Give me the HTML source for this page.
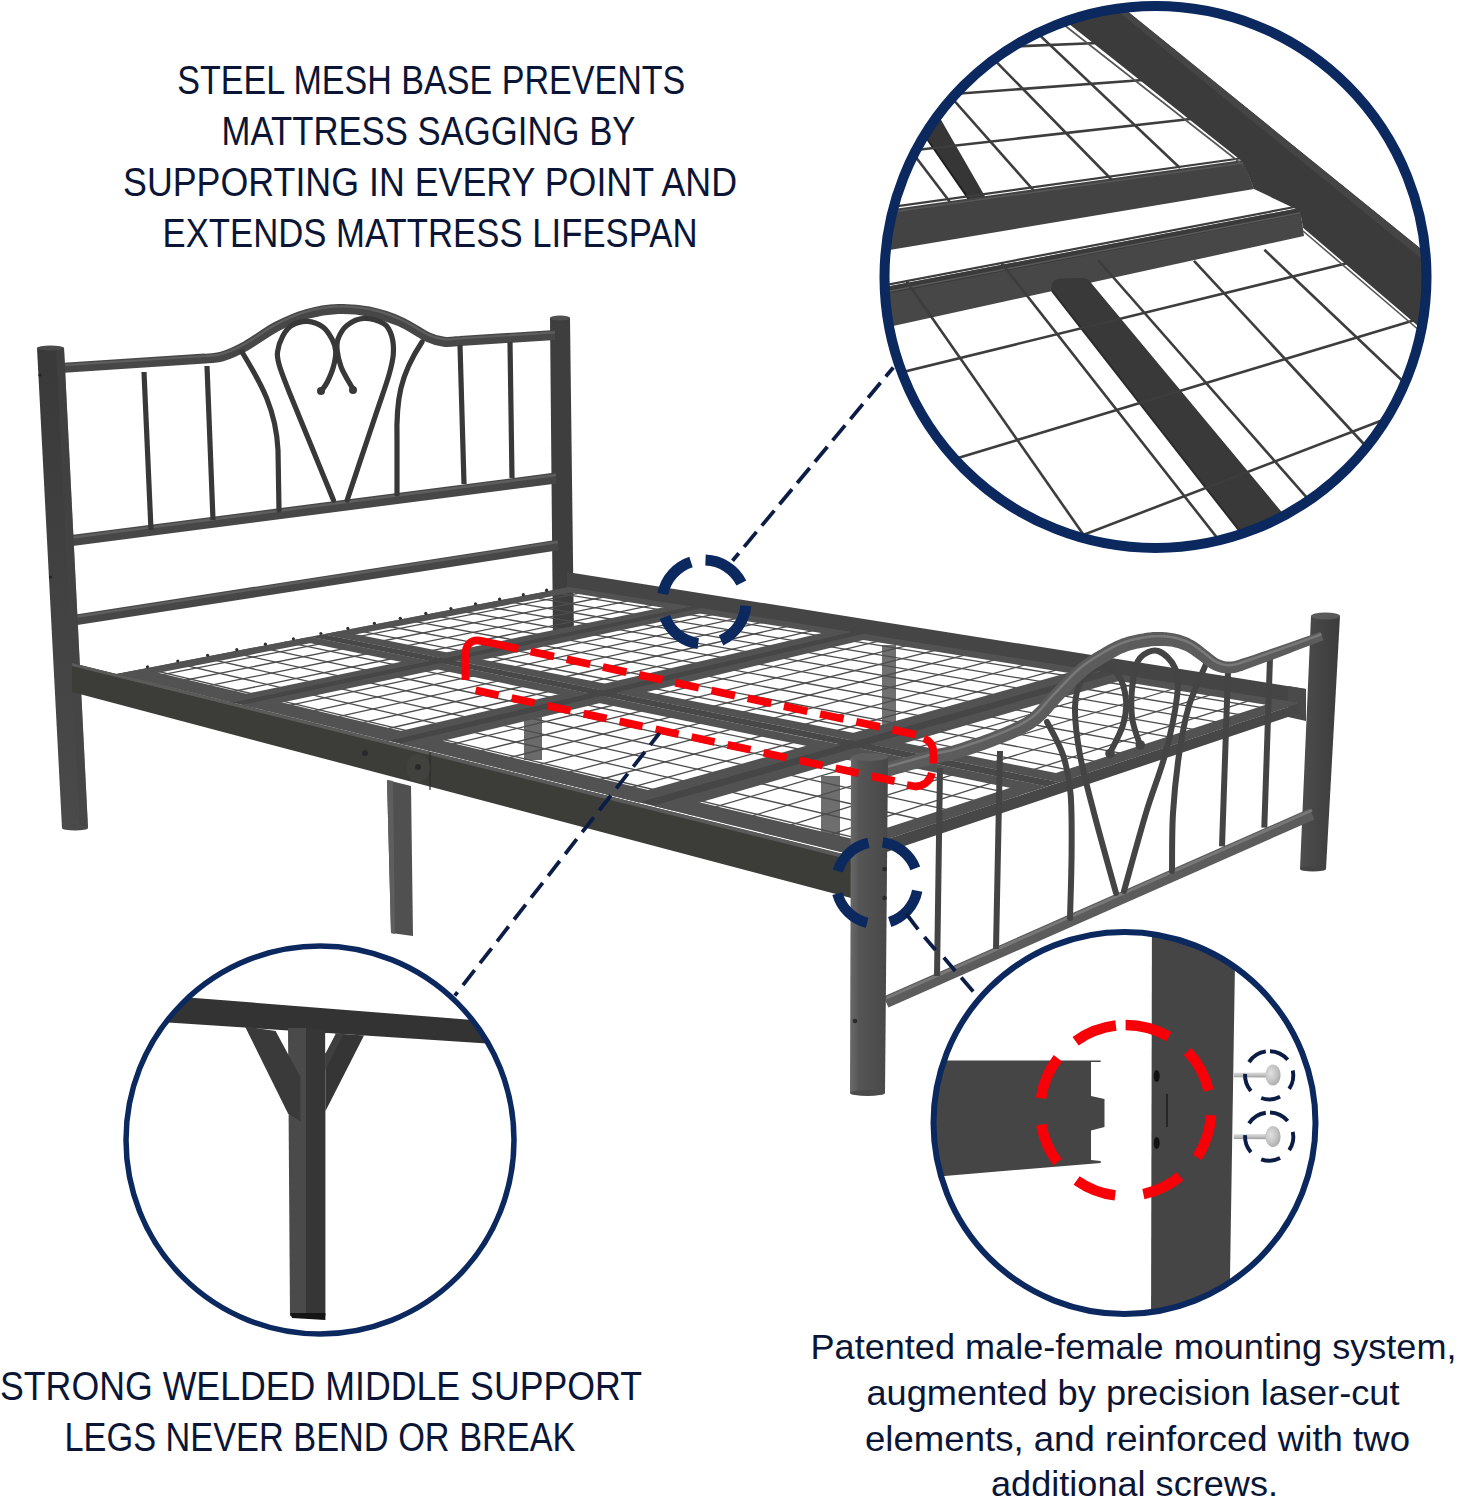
<!DOCTYPE html>
<html><head><meta charset="utf-8"><style>
html,body{margin:0;padding:0;background:#fff;}
body{width:1458px;height:1500px;overflow:hidden;}
svg{display:block;}
</style></head><body>
<svg width="1458" height="1500" viewBox="0 0 1458 1500">
<rect width="1458" height="1500" fill="#fff"/>
<defs><linearGradient id="gpost" x1="0" y1="0" x2="0" y2="1"><stop offset="0" stop-color="#393939"/><stop offset="1" stop-color="#4a4a4a"/></linearGradient><linearGradient id="gfp" x1="0" y1="0" x2="1" y2="0"><stop offset="0" stop-color="#6a6a6a"/><stop offset="0.25" stop-color="#555"/><stop offset="1" stop-color="#484848"/></linearGradient><linearGradient id="gfp2" x1="0" y1="0" x2="1" y2="0"><stop offset="0" stop-color="#4e4e4e"/><stop offset="0.5" stop-color="#444"/><stop offset="1" stop-color="#3c3c3c"/></linearGradient></defs>
<polygon points="550,318 570,318 574,640 553,640" fill="#3e3e3e" />
<ellipse cx="560" cy="318" rx="10" ry="2.5" fill="#505050"/>
<path d="M64 367.7 L 205 358.6 C207.8 358.2 215.2 358.6 222 356.5 C228.8 354.4 236.9 350.8 246 345.8 C255.1 340.8 266.5 331.8 276.7 326.5 C286.9 321.2 296.8 316.9 307 314 C317.2 311.1 327.7 309.4 338 309 C348.3 308.6 358.4 309.4 368.7 311.5 C379 313.6 390.2 317.2 400 321.5 C409.8 325.8 420.3 333.6 427.6 337 C434.9 340.4 438.6 341.1 444 341.8 C449.4 342.5 457.3 341.1 460 341 L 555 335" fill="none" stroke="#474747" stroke-width="10" stroke-linecap="butt" stroke-linejoin="round" />
<path d="M64 367.7 L 205 358.6 C207.8 358.2 215.2 358.6 222 356.5 C228.8 354.4 236.9 350.8 246 345.8 C255.1 340.8 266.5 331.8 276.7 326.5 C286.9 321.2 296.8 316.9 307 314 C317.2 311.1 327.7 309.4 338 309 C348.3 308.6 358.4 309.4 368.7 311.5 C379 313.6 390.2 317.2 400 321.5 C409.8 325.8 420.3 333.6 427.6 337 C434.9 340.4 438.6 341.1 444 341.8 C449.4 342.5 457.3 341.1 460 341 L 555 335" fill="none" stroke="#5e5e5e" stroke-width="2.2" stroke-linecap="butt" stroke-linejoin="round" transform="translate(0,-2.6)"/>
<line x1="68" y1="541" x2="556" y2="478" stroke="#474747" stroke-width="11" stroke-linecap="butt" />
<line x1="68" y1="538" x2="556" y2="475" stroke="#5e5e5e" stroke-width="2.4" stroke-linecap="butt" />
<line x1="75" y1="620" x2="558" y2="545" stroke="#474747" stroke-width="10.5" stroke-linecap="butt" />
<line x1="75" y1="617" x2="558" y2="542" stroke="#5e5e5e" stroke-width="2.4" stroke-linecap="butt" />
<line x1="144" y1="372" x2="151" y2="530" stroke="#383838" stroke-width="5.2" stroke-linecap="butt" />
<line x1="207" y1="366" x2="213" y2="520" stroke="#383838" stroke-width="5.2" stroke-linecap="butt" />
<line x1="460" y1="345" x2="464" y2="484" stroke="#383838" stroke-width="5.2" stroke-linecap="butt" />
<line x1="510" y1="342" x2="512" y2="478" stroke="#383838" stroke-width="5.2" stroke-linecap="butt" />
<path d="M242 352 C 262 385 276 410 278 450 L 279 510" fill="none" stroke="#383838" stroke-width="5.2" stroke-linecap="round" stroke-linejoin="round" />
<path d="M422 342 C 400 375 396 400 397 440 L 397 494" fill="none" stroke="#383838" stroke-width="5.2" stroke-linecap="round" stroke-linejoin="round" />
<path d="M333.4 500 C329.8 491.2 318.9 464.7 311.7 447 C304.5 429.3 295.4 407.5 290 394 C284.6 380.5 281.6 373 279.5 366 C277.4 359 276.9 357 277.5 352 C278.1 347 280.4 340.4 282.8 336 C285.2 331.6 287.9 327.7 292 325.3 C296.1 322.9 302.3 321.1 307.4 321.4 C312.5 321.6 318.6 323.9 322.7 326.8 C326.8 329.7 329.8 334.9 332 339 C334.2 343.1 335.5 346.7 335.7 351.3 C335.9 355.9 334.8 361.6 333.4 366.7 C332 371.8 329.3 377.9 327.3 382 C325.3 386.1 322.2 389.7 321.2 391.2" fill="none" stroke="#383838" stroke-width="5.2" stroke-linecap="round" stroke-linejoin="round" />
<path d="M347.2 500 C349.5 493.1 356.1 473.2 361 458.7 C365.9 444.1 371.8 426.5 376.4 412.7 C381 398.9 385.9 385.6 388.7 375.9 C391.5 366.2 392.8 361 393.3 354.4 C393.8 347.8 393.2 341.1 391.7 336 C390.1 330.9 388.6 326.6 384 323.7 C379.4 320.8 370.1 318.1 364 318.4 C357.9 318.7 351.5 321.9 347.2 325.3 C342.9 328.7 339.6 334.7 338 339 C336.4 343.3 336.8 346.7 337.3 351.3 C337.8 355.9 339.4 362.1 341 366.7 C342.6 371.3 345.1 375.2 347.2 379 C349.3 382.8 352.4 387.9 353.4 389.7" fill="none" stroke="#383838" stroke-width="5.2" stroke-linecap="round" stroke-linejoin="round" />
<circle cx="321" cy="391" r="4" fill="#383838"/>
<circle cx="353" cy="390" r="4" fill="#383838"/>
<polygon points="37,348 64,348 88,828 62,828" fill="url(#gpost)" />
<polygon points="56,348 64,348 88,828 80,828" fill="#444" opacity="0.6"/>
<ellipse cx="50.5" cy="348" rx="13.5" ry="2.5" fill="#4a4a4a"/>
<ellipse cx="75" cy="828" rx="13" ry="2.5" fill="#4a4a4a"/>
<circle cx="39.9" cy="375" r="1.6" fill="#222"/>
<circle cx="50.4" cy="577" r="1.6" fill="#222"/>
<polygon points="567,572 1306,689 1306,705 567,589" fill="#454545" />
<polygon points="1288,686 1306,689 1306,721 1288,717" fill="#4a4a4a" />
<polygon points="524,700 542,700 542,760 524,760" fill="#6a6a6a" />
<polygon points="821,776 840,776 840,842 821,842" fill="#6e6e6e" />
<polygon points="882,645 896,645 896,735 882,735" fill="#707070" />
<polygon points="310.3,636.7 1046.6,786.5 1059.7,782.2 323.3,634.2" fill="#484848" />
<polygon points="229.5,701.9 244.9,705.6 704.5,608.5 688.4,606" fill="#464646" />
<polygon points="385.1,740.1 403.1,744.5 867,634.3 848.7,631.4" fill="#464646" />
<polygon points="634.5,801.3 657,806.8 1119.4,674.3 1097.4,670.9" fill="#464646" />
<clipPath id="p00"><polygon points="116,674 232.4,702.6 430.4,661.1 310.3,636.7"/></clipPath>
<g clip-path="url(#p00)">
<line x1="116" y1="674" x2="310.3" y2="636.7" stroke="#4d4d4d" stroke-width="1.3" stroke-linecap="butt" />
<line x1="138.2" y1="679.4" x2="333.2" y2="641.4" stroke="#4d4d4d" stroke-width="1.3" stroke-linecap="butt" />
<line x1="160.9" y1="685" x2="356.7" y2="646.1" stroke="#4d4d4d" stroke-width="1.3" stroke-linecap="butt" />
<line x1="184.1" y1="690.7" x2="380.7" y2="651" stroke="#4d4d4d" stroke-width="1.3" stroke-linecap="butt" />
<line x1="208" y1="696.6" x2="405.2" y2="656" stroke="#4d4d4d" stroke-width="1.3" stroke-linecap="butt" />
<line x1="232.4" y1="702.6" x2="430.4" y2="661.1" stroke="#4d4d4d" stroke-width="1.3" stroke-linecap="butt" />
<line x1="116" y1="674" x2="232.4" y2="702.6" stroke="#4d4d4d" stroke-width="1.3" stroke-linecap="butt" />
<line x1="145.4" y1="668.4" x2="262.5" y2="696.3" stroke="#4d4d4d" stroke-width="1.3" stroke-linecap="butt" />
<line x1="174.2" y1="662.8" x2="291.9" y2="690.1" stroke="#4d4d4d" stroke-width="1.3" stroke-linecap="butt" />
<line x1="202.4" y1="657.4" x2="320.7" y2="684.1" stroke="#4d4d4d" stroke-width="1.3" stroke-linecap="butt" />
<line x1="230.1" y1="652.1" x2="348.9" y2="678.2" stroke="#4d4d4d" stroke-width="1.3" stroke-linecap="butt" />
<line x1="257.4" y1="646.9" x2="376.6" y2="672.4" stroke="#4d4d4d" stroke-width="1.3" stroke-linecap="butt" />
<line x1="284.1" y1="641.7" x2="403.8" y2="666.7" stroke="#4d4d4d" stroke-width="1.3" stroke-linecap="butt" />
<line x1="310.3" y1="636.7" x2="430.4" y2="661.1" stroke="#4d4d4d" stroke-width="1.3" stroke-linecap="butt" />
<polygon points="116,674 131.8,677.9 326.6,640 310.3,636.7" fill="#525252" />
<polygon points="219.5,699.4 232.4,702.6 430.4,661.1 417.1,658.4" fill="#525252" />
<polygon points="116,674 232.4,702.6 259.4,696.9 142.4,668.9" fill="#525252" />
<polygon points="293.9,639.8 413.7,664.6 430.4,661.1 310.3,636.7" fill="#525252" />
</g>
<clipPath id="p041"><polygon points="323.3,634.2 443.6,658.4 691.5,606.4 569,587"/></clipPath>
<g clip-path="url(#p041)">
<line x1="323.3" y1="634.2" x2="569" y2="587" stroke="#4d4d4d" stroke-width="1.3" stroke-linecap="butt" />
<line x1="346.3" y1="638.8" x2="592.5" y2="590.7" stroke="#4d4d4d" stroke-width="1.3" stroke-linecap="butt" />
<line x1="369.8" y1="643.5" x2="616.5" y2="594.5" stroke="#4d4d4d" stroke-width="1.3" stroke-linecap="butt" />
<line x1="393.8" y1="648.4" x2="641" y2="598.4" stroke="#4d4d4d" stroke-width="1.3" stroke-linecap="butt" />
<line x1="418.4" y1="653.3" x2="666" y2="602.4" stroke="#4d4d4d" stroke-width="1.3" stroke-linecap="butt" />
<line x1="443.6" y1="658.4" x2="691.5" y2="606.4" stroke="#4d4d4d" stroke-width="1.3" stroke-linecap="butt" />
<line x1="323.3" y1="634.2" x2="443.6" y2="658.4" stroke="#4d4d4d" stroke-width="1.3" stroke-linecap="butt" />
<line x1="349.9" y1="629.1" x2="470.6" y2="652.7" stroke="#4d4d4d" stroke-width="1.3" stroke-linecap="butt" />
<line x1="376.1" y1="624" x2="497.1" y2="647.2" stroke="#4d4d4d" stroke-width="1.3" stroke-linecap="butt" />
<line x1="401.8" y1="619.1" x2="523" y2="641.7" stroke="#4d4d4d" stroke-width="1.3" stroke-linecap="butt" />
<line x1="427" y1="614.3" x2="548.5" y2="636.4" stroke="#4d4d4d" stroke-width="1.3" stroke-linecap="butt" />
<line x1="451.7" y1="609.5" x2="573.5" y2="631.2" stroke="#4d4d4d" stroke-width="1.3" stroke-linecap="butt" />
<line x1="476" y1="604.9" x2="598" y2="626" stroke="#4d4d4d" stroke-width="1.3" stroke-linecap="butt" />
<line x1="499.9" y1="600.3" x2="622" y2="621" stroke="#4d4d4d" stroke-width="1.3" stroke-linecap="butt" />
<line x1="523.3" y1="595.8" x2="645.6" y2="616.1" stroke="#4d4d4d" stroke-width="1.3" stroke-linecap="butt" />
<line x1="546.4" y1="591.3" x2="668.8" y2="611.2" stroke="#4d4d4d" stroke-width="1.3" stroke-linecap="butt" />
<line x1="569" y1="587" x2="691.5" y2="606.4" stroke="#4d4d4d" stroke-width="1.3" stroke-linecap="butt" />
<polygon points="323.3,634.2 339.6,637.5 585.7,589.7 569,587" fill="#525252" />
<polygon points="430.3,655.7 443.6,658.4 691.5,606.4 678.1,604.3" fill="#525252" />
<polygon points="323.3,634.2 443.6,658.4 459.9,655 339.4,631.1" fill="#525252" />
<polygon points="553.5,590 675.9,609.7 691.5,606.4 569,587" fill="#525252" />
</g>
<clipPath id="p220"><polygon points="241.9,704.9 388.5,740.9 589.9,693.6 440.1,663.1"/></clipPath>
<g clip-path="url(#p220)">
<line x1="241.9" y1="704.9" x2="440.1" y2="663.1" stroke="#4d4d4d" stroke-width="1.3" stroke-linecap="butt" />
<line x1="264.9" y1="710.6" x2="463.7" y2="667.9" stroke="#4d4d4d" stroke-width="1.3" stroke-linecap="butt" />
<line x1="288.5" y1="716.3" x2="487.8" y2="672.8" stroke="#4d4d4d" stroke-width="1.3" stroke-linecap="butt" />
<line x1="312.6" y1="722.3" x2="512.5" y2="677.8" stroke="#4d4d4d" stroke-width="1.3" stroke-linecap="butt" />
<line x1="337.3" y1="728.3" x2="537.7" y2="683" stroke="#4d4d4d" stroke-width="1.3" stroke-linecap="butt" />
<line x1="362.6" y1="734.5" x2="563.5" y2="688.2" stroke="#4d4d4d" stroke-width="1.3" stroke-linecap="butt" />
<line x1="388.5" y1="740.9" x2="589.9" y2="693.6" stroke="#4d4d4d" stroke-width="1.3" stroke-linecap="butt" />
<line x1="241.9" y1="704.9" x2="388.5" y2="740.9" stroke="#4d4d4d" stroke-width="1.3" stroke-linecap="butt" />
<line x1="272" y1="698.6" x2="419.2" y2="733.7" stroke="#4d4d4d" stroke-width="1.3" stroke-linecap="butt" />
<line x1="301.4" y1="692.4" x2="449.2" y2="726.7" stroke="#4d4d4d" stroke-width="1.3" stroke-linecap="butt" />
<line x1="330.3" y1="686.3" x2="478.5" y2="719.8" stroke="#4d4d4d" stroke-width="1.3" stroke-linecap="butt" />
<line x1="358.6" y1="680.3" x2="507.3" y2="713" stroke="#4d4d4d" stroke-width="1.3" stroke-linecap="butt" />
<line x1="386.3" y1="674.5" x2="535.4" y2="706.4" stroke="#4d4d4d" stroke-width="1.3" stroke-linecap="butt" />
<line x1="413.5" y1="668.7" x2="562.9" y2="699.9" stroke="#4d4d4d" stroke-width="1.3" stroke-linecap="butt" />
<line x1="440.1" y1="663.1" x2="589.9" y2="693.6" stroke="#4d4d4d" stroke-width="1.3" stroke-linecap="butt" />
<polygon points="241.9,704.9 255.1,708.2 453.7,665.9 440.1,663.1" fill="#525252" />
<polygon points="373.5,737.2 388.5,740.9 589.9,693.6 574.6,690.5" fill="#525252" />
<polygon points="241.9,704.9 388.5,740.9 416.1,734.4 268.9,699.2" fill="#525252" />
<polygon points="423.4,666.6 573,697.6 589.9,693.6 440.1,663.1" fill="#525252" />
</g>
<clipPath id="p2241"><polygon points="453.3,660.3 603.2,690.5 852.2,631.9 701.4,608"/></clipPath>
<g clip-path="url(#p2241)">
<line x1="453.3" y1="660.3" x2="701.4" y2="608" stroke="#4d4d4d" stroke-width="1.3" stroke-linecap="butt" />
<line x1="476.9" y1="665.1" x2="725.3" y2="611.8" stroke="#4d4d4d" stroke-width="1.3" stroke-linecap="butt" />
<line x1="501.1" y1="669.9" x2="749.6" y2="615.7" stroke="#4d4d4d" stroke-width="1.3" stroke-linecap="butt" />
<line x1="525.8" y1="674.9" x2="774.5" y2="619.6" stroke="#4d4d4d" stroke-width="1.3" stroke-linecap="butt" />
<line x1="551" y1="680" x2="799.9" y2="623.6" stroke="#4d4d4d" stroke-width="1.3" stroke-linecap="butt" />
<line x1="576.8" y1="685.1" x2="825.7" y2="627.7" stroke="#4d4d4d" stroke-width="1.3" stroke-linecap="butt" />
<line x1="603.2" y1="690.5" x2="852.2" y2="631.9" stroke="#4d4d4d" stroke-width="1.3" stroke-linecap="butt" />
<line x1="453.3" y1="660.3" x2="603.2" y2="690.5" stroke="#4d4d4d" stroke-width="1.3" stroke-linecap="butt" />
<line x1="480.4" y1="654.6" x2="630.5" y2="684" stroke="#4d4d4d" stroke-width="1.3" stroke-linecap="butt" />
<line x1="506.9" y1="649" x2="657.2" y2="677.8" stroke="#4d4d4d" stroke-width="1.3" stroke-linecap="butt" />
<line x1="532.8" y1="643.6" x2="683.4" y2="671.6" stroke="#4d4d4d" stroke-width="1.3" stroke-linecap="butt" />
<line x1="558.3" y1="638.2" x2="709" y2="665.6" stroke="#4d4d4d" stroke-width="1.3" stroke-linecap="butt" />
<line x1="583.3" y1="632.9" x2="734.1" y2="659.7" stroke="#4d4d4d" stroke-width="1.3" stroke-linecap="butt" />
<line x1="607.8" y1="627.7" x2="758.6" y2="653.9" stroke="#4d4d4d" stroke-width="1.3" stroke-linecap="butt" />
<line x1="631.9" y1="622.7" x2="782.7" y2="648.3" stroke="#4d4d4d" stroke-width="1.3" stroke-linecap="butt" />
<line x1="655.5" y1="617.7" x2="806.3" y2="642.7" stroke="#4d4d4d" stroke-width="1.3" stroke-linecap="butt" />
<line x1="678.6" y1="612.8" x2="829.5" y2="637.3" stroke="#4d4d4d" stroke-width="1.3" stroke-linecap="butt" />
<line x1="701.4" y1="608" x2="852.2" y2="631.9" stroke="#4d4d4d" stroke-width="1.3" stroke-linecap="butt" />
<polygon points="453.3,660.3 466.9,663.1 715.1,610.2 701.4,608" fill="#525252" />
<polygon points="587.9,687.4 603.2,690.5 852.2,631.9 836.9,629.5" fill="#525252" />
<polygon points="453.3,660.3 603.2,690.5 619.7,686.6 469.6,656.9" fill="#525252" />
<polygon points="685.8,611.3 836.6,635.6 852.2,631.9 701.4,608" fill="#525252" />
</g>
<clipPath id="p470"><polygon points="399.6,743.6 638.8,802.4 842,744.9 601.1,695.9"/></clipPath>
<g clip-path="url(#p470)">
<line x1="399.6" y1="743.6" x2="601.1" y2="695.9" stroke="#4d4d4d" stroke-width="1.3" stroke-linecap="butt" />
<line x1="426.8" y1="750.3" x2="628.7" y2="701.5" stroke="#4d4d4d" stroke-width="1.3" stroke-linecap="butt" />
<line x1="454.7" y1="757.2" x2="657" y2="707.2" stroke="#4d4d4d" stroke-width="1.3" stroke-linecap="butt" />
<line x1="483.4" y1="764.2" x2="685.9" y2="713.1" stroke="#4d4d4d" stroke-width="1.3" stroke-linecap="butt" />
<line x1="512.8" y1="771.4" x2="715.6" y2="719.2" stroke="#4d4d4d" stroke-width="1.3" stroke-linecap="butt" />
<line x1="543" y1="778.8" x2="746" y2="725.4" stroke="#4d4d4d" stroke-width="1.3" stroke-linecap="butt" />
<line x1="574" y1="786.5" x2="777.2" y2="731.7" stroke="#4d4d4d" stroke-width="1.3" stroke-linecap="butt" />
<line x1="606" y1="794.3" x2="809.2" y2="738.2" stroke="#4d4d4d" stroke-width="1.3" stroke-linecap="butt" />
<line x1="638.8" y1="802.4" x2="842" y2="744.9" stroke="#4d4d4d" stroke-width="1.3" stroke-linecap="butt" />
<line x1="399.6" y1="743.6" x2="638.8" y2="802.4" stroke="#4d4d4d" stroke-width="1.3" stroke-linecap="butt" />
<line x1="430.3" y1="736.4" x2="670" y2="793.5" stroke="#4d4d4d" stroke-width="1.3" stroke-linecap="butt" />
<line x1="460.3" y1="729.2" x2="700.4" y2="784.9" stroke="#4d4d4d" stroke-width="1.3" stroke-linecap="butt" />
<line x1="489.7" y1="722.3" x2="730.1" y2="776.6" stroke="#4d4d4d" stroke-width="1.3" stroke-linecap="butt" />
<line x1="518.5" y1="715.5" x2="759.1" y2="768.4" stroke="#4d4d4d" stroke-width="1.3" stroke-linecap="butt" />
<line x1="546.6" y1="708.8" x2="787.4" y2="760.4" stroke="#4d4d4d" stroke-width="1.3" stroke-linecap="butt" />
<line x1="574.1" y1="702.3" x2="815" y2="752.5" stroke="#4d4d4d" stroke-width="1.3" stroke-linecap="butt" />
<line x1="601.1" y1="695.9" x2="842" y2="744.9" stroke="#4d4d4d" stroke-width="1.3" stroke-linecap="butt" />
<polygon points="399.6,743.6 415,747.4 616.7,699.1 601.1,695.9" fill="#525252" />
<polygon points="620,797.7 638.8,802.4 842,744.9 823.2,741.1" fill="#525252" />
<polygon points="399.6,743.6 638.8,802.4 666.8,794.4 427.2,737.1" fill="#525252" />
<polygon points="584.2,699.9 825.1,749.7 842,744.9 601.1,695.9" fill="#525252" />
</g>
<clipPath id="p4741"><polygon points="614.5,692.7 855.4,741.1 1101.6,671.5 863.4,633.7"/></clipPath>
<g clip-path="url(#p4741)">
<line x1="614.5" y1="692.7" x2="863.4" y2="633.7" stroke="#4d4d4d" stroke-width="1.3" stroke-linecap="butt" />
<line x1="642.1" y1="698.3" x2="891" y2="638.1" stroke="#4d4d4d" stroke-width="1.3" stroke-linecap="butt" />
<line x1="670.3" y1="703.9" x2="919.1" y2="642.6" stroke="#4d4d4d" stroke-width="1.3" stroke-linecap="butt" />
<line x1="699.3" y1="709.8" x2="947.9" y2="647.1" stroke="#4d4d4d" stroke-width="1.3" stroke-linecap="butt" />
<line x1="729" y1="715.7" x2="977.3" y2="651.8" stroke="#4d4d4d" stroke-width="1.3" stroke-linecap="butt" />
<line x1="759.4" y1="721.8" x2="1007.3" y2="656.6" stroke="#4d4d4d" stroke-width="1.3" stroke-linecap="butt" />
<line x1="790.6" y1="728.1" x2="1038.1" y2="661.4" stroke="#4d4d4d" stroke-width="1.3" stroke-linecap="butt" />
<line x1="822.6" y1="734.5" x2="1069.5" y2="666.4" stroke="#4d4d4d" stroke-width="1.3" stroke-linecap="butt" />
<line x1="855.4" y1="741.1" x2="1101.6" y2="671.5" stroke="#4d4d4d" stroke-width="1.3" stroke-linecap="butt" />
<line x1="614.5" y1="692.7" x2="855.4" y2="741.1" stroke="#4d4d4d" stroke-width="1.3" stroke-linecap="butt" />
<line x1="641.7" y1="686.2" x2="882.6" y2="733.4" stroke="#4d4d4d" stroke-width="1.3" stroke-linecap="butt" />
<line x1="668.5" y1="679.9" x2="909.2" y2="725.9" stroke="#4d4d4d" stroke-width="1.3" stroke-linecap="butt" />
<line x1="694.6" y1="673.7" x2="935.2" y2="718.6" stroke="#4d4d4d" stroke-width="1.3" stroke-linecap="butt" />
<line x1="720.2" y1="667.6" x2="960.6" y2="711.4" stroke="#4d4d4d" stroke-width="1.3" stroke-linecap="butt" />
<line x1="745.3" y1="661.7" x2="985.5" y2="704.4" stroke="#4d4d4d" stroke-width="1.3" stroke-linecap="butt" />
<line x1="769.9" y1="655.9" x2="1009.7" y2="697.5" stroke="#4d4d4d" stroke-width="1.3" stroke-linecap="butt" />
<line x1="794" y1="650.2" x2="1033.5" y2="690.8" stroke="#4d4d4d" stroke-width="1.3" stroke-linecap="butt" />
<line x1="817.6" y1="644.6" x2="1056.7" y2="684.2" stroke="#4d4d4d" stroke-width="1.3" stroke-linecap="butt" />
<line x1="840.7" y1="639.1" x2="1079.4" y2="677.8" stroke="#4d4d4d" stroke-width="1.3" stroke-linecap="butt" />
<line x1="863.4" y1="633.7" x2="1101.6" y2="671.5" stroke="#4d4d4d" stroke-width="1.3" stroke-linecap="butt" />
<polygon points="614.5,692.7 630.1,695.9 879,636.2 863.4,633.7" fill="#525252" />
<polygon points="836.6,737.4 855.4,741.1 1101.6,671.5 1083.2,668.6" fill="#525252" />
<polygon points="614.5,692.7 855.4,741.1 871.8,736.5 630.9,688.8" fill="#525252" />
<polygon points="847.9,637.4 1086.4,675.8 1101.6,671.5 863.4,633.7" fill="#525252" />
</g>
<clipPath id="p790"><polygon points="652.7,805.8 845,853 1046.6,786.5 855.9,747.7"/></clipPath>
<g clip-path="url(#p790)">
<line x1="652.7" y1="805.8" x2="855.9" y2="747.7" stroke="#4d4d4d" stroke-width="1.3" stroke-linecap="butt" />
<line x1="688.8" y1="814.6" x2="891.9" y2="755.1" stroke="#4d4d4d" stroke-width="1.3" stroke-linecap="butt" />
<line x1="726" y1="823.8" x2="928.9" y2="762.6" stroke="#4d4d4d" stroke-width="1.3" stroke-linecap="butt" />
<line x1="764.4" y1="833.2" x2="967" y2="770.3" stroke="#4d4d4d" stroke-width="1.3" stroke-linecap="butt" />
<line x1="804.1" y1="842.9" x2="1006.2" y2="778.3" stroke="#4d4d4d" stroke-width="1.3" stroke-linecap="butt" />
<line x1="845" y1="853" x2="1046.6" y2="786.5" stroke="#4d4d4d" stroke-width="1.3" stroke-linecap="butt" />
<line x1="652.7" y1="805.8" x2="845" y2="853" stroke="#4d4d4d" stroke-width="1.3" stroke-linecap="butt" />
<line x1="683.9" y1="796.9" x2="876.1" y2="842.7" stroke="#4d4d4d" stroke-width="1.3" stroke-linecap="butt" />
<line x1="714.3" y1="788.2" x2="906.4" y2="832.8" stroke="#4d4d4d" stroke-width="1.3" stroke-linecap="butt" />
<line x1="744" y1="779.7" x2="935.9" y2="823" stroke="#4d4d4d" stroke-width="1.3" stroke-linecap="butt" />
<line x1="773" y1="771.4" x2="964.7" y2="813.6" stroke="#4d4d4d" stroke-width="1.3" stroke-linecap="butt" />
<line x1="801.3" y1="763.3" x2="992.7" y2="804.3" stroke="#4d4d4d" stroke-width="1.3" stroke-linecap="butt" />
<line x1="828.9" y1="755.4" x2="1020" y2="795.3" stroke="#4d4d4d" stroke-width="1.3" stroke-linecap="butt" />
<line x1="855.9" y1="747.7" x2="1046.6" y2="786.5" stroke="#4d4d4d" stroke-width="1.3" stroke-linecap="butt" />
<polygon points="652.7,805.8 672,810.5 875.2,751.7 855.9,747.7" fill="#525252" />
<polygon points="824.8,848 845,853 1046.6,786.5 1026.6,782.5" fill="#525252" />
<polygon points="652.7,805.8 845,853 873,843.8 680.7,797.8" fill="#525252" />
<polygon points="839,752.6 1029.9,792 1046.6,786.5 855.9,747.7" fill="#525252" />
</g>
<clipPath id="p7941"><polygon points="869.2,743.9 1059.7,782.2 1300,703 1115.2,673.7"/></clipPath>
<g clip-path="url(#p7941)">
<line x1="869.2" y1="743.9" x2="1115.2" y2="673.7" stroke="#4d4d4d" stroke-width="1.3" stroke-linecap="butt" />
<line x1="905.2" y1="751.2" x2="1150.3" y2="679.2" stroke="#4d4d4d" stroke-width="1.3" stroke-linecap="butt" />
<line x1="942.2" y1="758.6" x2="1186.3" y2="685" stroke="#4d4d4d" stroke-width="1.3" stroke-linecap="butt" />
<line x1="980.2" y1="766.2" x2="1223.3" y2="690.8" stroke="#4d4d4d" stroke-width="1.3" stroke-linecap="butt" />
<line x1="1019.4" y1="774.1" x2="1261.1" y2="696.8" stroke="#4d4d4d" stroke-width="1.3" stroke-linecap="butt" />
<line x1="1059.7" y1="782.2" x2="1300" y2="703" stroke="#4d4d4d" stroke-width="1.3" stroke-linecap="butt" />
<line x1="869.2" y1="743.9" x2="1059.7" y2="782.2" stroke="#4d4d4d" stroke-width="1.3" stroke-linecap="butt" />
<line x1="896.4" y1="736.1" x2="1086.5" y2="773.4" stroke="#4d4d4d" stroke-width="1.3" stroke-linecap="butt" />
<line x1="923" y1="728.6" x2="1112.6" y2="764.8" stroke="#4d4d4d" stroke-width="1.3" stroke-linecap="butt" />
<line x1="949" y1="721.1" x2="1138.1" y2="756.4" stroke="#4d4d4d" stroke-width="1.3" stroke-linecap="butt" />
<line x1="974.4" y1="713.9" x2="1162.9" y2="748.2" stroke="#4d4d4d" stroke-width="1.3" stroke-linecap="butt" />
<line x1="999.2" y1="706.8" x2="1187.1" y2="740.2" stroke="#4d4d4d" stroke-width="1.3" stroke-linecap="butt" />
<line x1="1023.4" y1="699.9" x2="1210.8" y2="732.4" stroke="#4d4d4d" stroke-width="1.3" stroke-linecap="butt" />
<line x1="1047.1" y1="693.1" x2="1233.9" y2="724.8" stroke="#4d4d4d" stroke-width="1.3" stroke-linecap="butt" />
<line x1="1070.3" y1="686.5" x2="1256.4" y2="717.4" stroke="#4d4d4d" stroke-width="1.3" stroke-linecap="butt" />
<line x1="1093" y1="680" x2="1278.5" y2="710.1" stroke="#4d4d4d" stroke-width="1.3" stroke-linecap="butt" />
<line x1="1115.2" y1="673.7" x2="1300" y2="703" stroke="#4d4d4d" stroke-width="1.3" stroke-linecap="butt" />
<polygon points="869.2,743.9 888.5,747.8 1134,676.7 1115.2,673.7" fill="#525252" />
<polygon points="1039.8,778.2 1059.7,782.2 1300,703 1280.8,700" fill="#525252" />
<polygon points="869.2,743.9 1059.7,782.2 1075.9,776.9 885.7,739.2" fill="#525252" />
<polygon points="1100,678 1285.3,707.9 1300,703 1115.2,673.7" fill="#525252" />
</g>
<circle cx="147.5" cy="666.8" r="1.6" fill="#2e2e2e"/>
<circle cx="177.8" cy="661" r="1.6" fill="#2e2e2e"/>
<circle cx="207.6" cy="655.3" r="1.6" fill="#2e2e2e"/>
<circle cx="236.8" cy="649.7" r="1.6" fill="#2e2e2e"/>
<circle cx="265.4" cy="644.2" r="1.6" fill="#2e2e2e"/>
<circle cx="293.4" cy="638.8" r="1.6" fill="#2e2e2e"/>
<circle cx="320.9" cy="633.5" r="1.6" fill="#2e2e2e"/>
<circle cx="347.9" cy="628.4" r="1.6" fill="#2e2e2e"/>
<circle cx="374.4" cy="623.3" r="1.6" fill="#2e2e2e"/>
<circle cx="400.3" cy="618.3" r="1.6" fill="#2e2e2e"/>
<circle cx="425.8" cy="613.4" r="1.6" fill="#2e2e2e"/>
<circle cx="450.9" cy="608.6" r="1.6" fill="#2e2e2e"/>
<circle cx="475.5" cy="603.9" r="1.6" fill="#2e2e2e"/>
<circle cx="499.6" cy="599.2" r="1.6" fill="#2e2e2e"/>
<circle cx="523.3" cy="594.7" r="1.6" fill="#2e2e2e"/>
<circle cx="546.6" cy="590.2" r="1.6" fill="#2e2e2e"/>
<polygon points="845,853 1300,703 1300,713 845,866" fill="#474747" />
<polygon points="72,663 851,856 851,898 72,692" fill="#3c3c39" />
<polygon points="72,663 851,856 851,860 72,666" fill="#5a5a5a" />
<line x1="430" y1="752" x2="430" y2="790" stroke="#2c2c2a" stroke-width="1.2" stroke-linecap="butt" />
<ellipse cx="418" cy="768" rx="12" ry="14" fill="#41413e"/>
<circle cx="365" cy="753" r="3" fill="#2a2a2a"/>
<circle cx="418" cy="767" r="3" fill="#2a2a2a"/>
<polygon points="387,780 411,786 413,936 391,933" fill="#505050" />
<polygon points="387,780 393,781 395,934 391,933" fill="#5e5e5e" />
<polygon points="1311,616 1340,616 1326,869 1300,869" fill="url(#gfp2)" />
<ellipse cx="1325.5" cy="616" rx="14.5" ry="3.5" fill="#5a5a5a"/>
<ellipse cx="1313" cy="869" rx="13" ry="2.5" fill="#444"/>
<line x1="886" y1="1002" x2="1312" y2="814" stroke="#5c5c5c" stroke-width="12" stroke-linecap="butt" />
<line x1="886" y1="998.2" x2="1312" y2="810.2" stroke="#787878" stroke-width="2.8" stroke-linecap="butt" />
<line x1="940" y1="768" x2="937" y2="976" stroke="#444" stroke-width="6" stroke-linecap="butt" />
<line x1="1000" y1="751" x2="996" y2="949" stroke="#444" stroke-width="6" stroke-linecap="butt" />
<line x1="1228" y1="672" x2="1222" y2="846.3" stroke="#444" stroke-width="6" stroke-linecap="butt" />
<line x1="1270" y1="658" x2="1264.3" y2="827.7" stroke="#444" stroke-width="6" stroke-linecap="butt" />
<path d="M1047 722 C1049.7 727.5 1059.1 743 1063 755 C1066.9 767 1069.2 777.8 1070.6 794 C1072 810.2 1071.7 831.3 1071.6 852 C1071.5 872.7 1070.3 907 1070 918" fill="none" stroke="#444" stroke-width="6" stroke-linecap="round" stroke-linejoin="round" />
<path d="M1206 664 C1203.1 671.2 1193.1 691.8 1188.6 707 C1184.1 722.2 1181.6 737.3 1179 755 C1176.4 772.7 1174.2 793.7 1173 813 C1171.8 832.3 1172.2 861.3 1172 871" fill="none" stroke="#444" stroke-width="6" stroke-linecap="round" stroke-linejoin="round" />
<path d="M1116 893 C1112.3 879.7 1100 836 1094 813 C1088 790 1083.2 772.7 1080 755 C1076.8 737.3 1074.7 719.5 1075 707 C1075.3 694.5 1077.7 686.7 1082 680 C1086.3 673.3 1095 667.8 1101 667 C1107 666.2 1113.8 669.5 1118 675 C1122.2 680.5 1125.2 691.7 1126 700 C1126.8 708.3 1125.7 716.2 1123 725 C1120.3 733.8 1112.2 748.3 1110 753" fill="none" stroke="#444" stroke-width="6" stroke-linecap="round" stroke-linejoin="round" />
<path d="M1124 891 C1127.7 878 1139.2 835.7 1146 813 C1152.8 790.3 1159.8 774.3 1165 755 C1170.2 735.7 1175.3 711.5 1177 697 C1178.7 682.5 1178.2 675.7 1175 668 C1171.8 660.3 1163.8 652.7 1158 651 C1152.2 649.3 1144.2 653.2 1140 658 C1135.8 662.8 1134.3 670.2 1133 680 C1131.7 689.8 1130.8 706.2 1132 717 C1133.2 727.8 1138.7 740.3 1140 745" fill="none" stroke="#444" stroke-width="6" stroke-linecap="round" stroke-linejoin="round" />
<circle cx="1110" cy="753.5" r="4.8" fill="#444"/>
<circle cx="1140.3" cy="745" r="4.8" fill="#444"/>
<polygon points="886.4,777.6 886.9,777.4 887.9,776.9 888.2,776.7 887.7,777 887.5,777.1 887.6,777 888.2,776.8 889.3,776.5 890.8,776 892.9,775.4 895.8,774.6 899.4,773.6 903.5,772.4 908,771.1 912.8,769.8 917.7,768.4 922.5,767.1 927,765.8 931.2,764.7 934.7,763.8 937.7,763.1 940.1,762.5 942.3,762.1 944.2,761.7 946.2,761.3 948.3,761 950.5,760.5 953,759.9 955.8,759.1 959,758.2 962.7,757.1 966.7,755.8 971,754.4 975.5,752.9 980.2,751.3 984.9,749.7 989.6,748 994.2,746.3 998.6,744.6 1002.6,743 1006.4,741.4 1010.1,739.9 1013.7,738.4 1017.2,736.8 1020.7,735.2 1024.1,733.6 1027.4,731.8 1030.7,729.9 1033.9,727.9 1037.2,725.6 1040.3,723.2 1043.2,720.6 1046,717.9 1048.6,715.1 1051.1,712.4 1053.5,709.6 1055.8,706.9 1058.1,704.3 1060.3,701.8 1062.6,699.4 1065.1,696.8 1067.6,694.2 1070.1,691.7 1072.5,689.1 1075,686.6 1077.4,684.1 1079.8,681.7 1082.1,679.5 1084.5,677.4 1086.8,675.4 1089.1,673.5 1091.5,671.7 1093.9,670 1096.3,668.3 1098.8,666.7 1101.2,665.2 1103.6,663.7 1106,662.3 1108.3,660.9 1110.5,659.7 1112.6,658.5 1114.5,657.4 1116.4,656.4 1118.1,655.5 1119.8,654.6 1121.5,653.8 1123.2,653.1 1124.8,652.4 1126.5,651.7 1128.3,651.1 1130.1,650.5 1131.9,650 1133.8,649.5 1135.8,649 1137.7,648.6 1139.7,648.2 1141.7,647.8 1143.6,647.5 1145.4,647.2 1147.1,646.9 1148.7,646.7 1150.1,646.5 1151.4,646.3 1152.6,646.2 1153.8,646.1 1154.9,646 1156.1,646 1157.3,646 1158.5,646 1159.9,646 1161.3,646 1162.7,646 1164.1,646.1 1165.5,646.1 1166.8,646.2 1168.2,646.3 1169.5,646.5 1170.9,646.6 1172.2,646.8 1173.5,647.1 1174.8,647.4 1176.2,647.7 1177.6,648.1 1178.9,648.5 1180.3,649 1181.7,649.5 1183,650 1184.3,650.5 1185.6,651.1 1186.9,651.7 1188.1,652.4 1189.3,653.2 1190.6,654 1191.9,654.9 1193.3,655.9 1194.7,657 1196.1,658 1197.5,659.1 1198.9,660.1 1200.3,661.1 1201.5,662 1202.6,662.8 1203.8,663.7 1204.9,664.6 1206.2,665.6 1207.5,666.6 1208.8,667.5 1210.3,668.4 1211.8,669.3 1213.4,670.1 1214.9,670.7 1216.3,671.3 1217.8,671.8 1219.4,672.3 1221,672.7 1222.8,673.1 1224.6,673.3 1226.5,673.5 1228.4,673.5 1230.3,673.4 1232,673.3 1233.4,673.1 1234.9,672.9 1236.4,672.6 1237.9,672.2 1239.7,671.6 1241.8,670.9 1244.4,670 1247.7,668.8 1251.8,667.3 1257.3,665.3 1264,662.8 1271.8,659.9 1280.3,656.7 1289,653.4 1297.6,650.1 1305.7,647 1313,644.2 1319,641.9 1323.5,640.2 1320.5,631.8 1315.9,633.3 1309.8,635.5 1302.4,638 1294.2,640.9 1285.5,643.9 1276.8,647 1268.2,649.9 1260.4,652.6 1253.6,654.9 1248.2,656.7 1244,658.1 1240.7,659.1 1238.2,660 1236.2,660.6 1234.8,661 1233.8,661.2 1233,661.3 1232.1,661.4 1231,661.5 1229.7,661.6 1228.3,661.6 1227.1,661.6 1226,661.4 1225,661.3 1224,661 1222.9,660.7 1221.9,660.3 1220.8,659.9 1219.7,659.4 1218.6,658.9 1217.6,658.4 1216.7,657.9 1215.8,657.3 1214.8,656.6 1213.8,655.8 1212.8,654.9 1211.6,653.9 1210.4,652.9 1209.1,651.9 1207.7,650.9 1206.5,650 1205.2,649 1203.9,647.9 1202.5,646.8 1201.1,645.7 1199.6,644.6 1198,643.4 1196.5,642.3 1194.8,641.2 1193.1,640.3 1191.4,639.4 1189.8,638.6 1188.1,637.8 1186.5,637.1 1184.8,636.5 1183.1,635.9 1181.5,635.3 1179.8,634.8 1178.2,634.3 1176.5,633.9 1174.8,633.5 1173.1,633.2 1171.4,632.9 1169.7,632.7 1168,632.5 1166.4,632.3 1164.8,632.2 1163.2,632.1 1161.6,632.1 1160.1,632 1158.6,632 1157.2,632 1155.7,632 1154.3,632.1 1152.8,632.1 1151.4,632.3 1149.8,632.4 1148.3,632.6 1146.6,632.8 1144.9,633.1 1143.1,633.4 1141.2,633.7 1139.2,634.1 1137,634.5 1134.9,634.9 1132.7,635.4 1130.4,635.9 1128.2,636.5 1125.9,637.2 1123.7,637.9 1121.6,638.6 1119.6,639.4 1117.7,640.2 1115.7,641.1 1113.8,642 1111.8,643 1109.8,644 1107.8,645.1 1105.7,646.3 1103.5,647.5 1101.2,648.9 1098.9,650.3 1096.4,651.7 1093.8,653.3 1091.2,654.9 1088.6,656.7 1085.9,658.5 1083.2,660.4 1080.5,662.5 1077.8,664.6 1075.2,666.9 1072.6,669.2 1070,671.7 1067.5,674.2 1064.9,676.8 1062.4,679.4 1059.9,682 1057.5,684.6 1055,687.1 1052.6,689.6 1050,692.3 1047.6,695 1045.2,697.8 1042.9,700.5 1040.6,703.1 1038.3,705.7 1036,708.1 1033.7,710.3 1031.3,712.4 1028.8,714.4 1026.2,716.2 1023.5,717.9 1020.7,719.5 1017.7,721.1 1014.6,722.6 1011.5,724.1 1008.1,725.5 1004.7,727 1001.1,728.5 997.4,730 993.5,731.6 989.3,733.2 984.8,734.8 980.3,736.5 975.7,738.1 971.1,739.6 966.6,741.1 962.4,742.5 958.5,743.7 955,744.8 952,745.7 949.6,746.3 947.4,746.8 945.5,747.2 943.7,747.6 941.7,747.9 939.6,748.3 937.2,748.8 934.4,749.4 931.3,750.2 927.6,751.2 923.3,752.3 918.8,753.6 913.9,754.9 909,756.3 904.2,757.7 899.7,759 895.5,760.1 891.9,761.2 889.1,762 886.9,762.6 885.2,763.1 884,763.5 883,763.8 882.3,764.1 881.5,764.4 880.8,764.8 880.9,764.8 881.6,764.4 881.6,764.4" fill="#5c5c5c" />
<polyline points="883,768.4 883.2,768.3 883,768.4 883,768.4 883.4,768.2 883.8,768 884.4,767.8 885.3,767.5 886.4,767.1 888.1,766.6 890.2,766 893.1,765.2 896.7,764.2 900.8,763 905.4,761.7 910.2,760.4 915.1,759 919.9,757.7 924.5,756.4 928.6,755.3 932.3,754.3 935.4,753.5 938.1,752.9 940.4,752.4 942.5,752.1 944.4,751.7 946.3,751.3 948.4,750.9 950.6,750.4 953.2,749.7 956.2,748.8 959.7,747.7 963.7,746.5 967.9,745.1 972.4,743.6 977,742 981.7,740.4 986.3,738.8 990.7,737.1 995,735.5 998.9,733.9 1002.7,732.4 1006.3,730.9 1009.8,729.4 1013.2,727.9 1016.4,726.4 1019.6,724.8 1022.7,723.2 1025.7,721.5 1028.5,719.7 1031.3,717.7 1034,715.7 1036.5,713.4 1039,711 1041.4,708.5 1043.7,705.9 1046,703.2 1048.4,700.5 1050.7,697.8 1053.1,695.1 1055.6,692.6 1058.1,690 1060.5,687.5 1063,684.9 1065.5,682.3 1067.9,679.7 1070.4,677.2 1072.9,674.7 1075.4,672.3 1078,670 1080.5,667.8 1083.1,665.8 1085.7,663.8 1088.3,662 1090.9,660.2 1093.5,658.5 1096.1,656.9 1098.6,655.3 1101,653.9 1103.3,652.5 1105.6,651.2 1107.7,649.9 1109.8,648.8 1111.8,647.7 1113.7,646.7 1115.6,645.8 1117.4,644.9 1119.3,644.1 1121.2,643.3 1123.1,642.6 1125.1,641.9 1127.2,641.2 1129.3,640.6 1131.4,640 1133.6,639.5 1135.7,639 1137.9,638.6 1139.9,638.2 1141.9,637.8 1143.8,637.5 1145.6,637.2 1147.2,637 1148.8,636.8 1150.3,636.6 1151.7,636.4 1153.1,636.3 1154.5,636.3 1155.8,636.2 1157.2,636.2 1158.6,636.2 1160,636.2 1161.5,636.2 1163,636.3 1164.6,636.4 1166.1,636.5 1167.7,636.6 1169.3,636.8 1170.8,637 1172.4,637.2 1174,637.5 1175.6,637.9 1177.2,638.3 1178.7,638.7 1180.3,639.2 1181.9,639.7 1183.5,640.2 1185,640.8 1186.6,641.5 1188.2,642.2 1189.7,642.9 1191.2,643.7 1192.8,644.6 1194.3,645.6 1195.8,646.6 1197.3,647.7 1198.7,648.8 1200.2,649.9 1201.5,651 1202.9,652 1204.2,653 1205.5,654 1206.8,654.9 1208.1,655.9 1209.3,656.9 1210.4,657.8 1211.5,658.7 1212.6,659.6 1213.7,660.4 1214.8,661.1 1215.9,661.7 1217,662.3 1218.2,662.8 1219.5,663.3 1220.7,663.8 1221.9,664.2 1223.1,664.5 1224.3,664.8 1225.6,665 1226.9,665.1 1228.3,665.2 1229.9,665.1 1231.3,665 1232.5,664.9 1233.5,664.8 1234.6,664.6 1235.7,664.3 1237.3,663.9 1239.3,663.2 1241.8,662.4 1245.1,661.3 1249.3,659.9 1254.7,658 1261.5,655.7 1269.3,652.9 1277.8,649.9 1286.6,646.8 1295.2,643.7 1303.4,640.7 1310.7,638.1 1316.9,635.9 1321.4,634.3" fill="none" stroke="#787878" stroke-width="2.6" stroke-linecap="butt" stroke-linejoin="round" />
<polygon points="851,757 888,757 885,1093 850,1093" fill="url(#gfp)" />
<ellipse cx="869.5" cy="757" rx="18.5" ry="4" fill="#5e5e5e"/>
<ellipse cx="867.5" cy="1093" rx="17.5" ry="3" fill="#4a4a4a"/>
<circle cx="884.5" cy="869" r="2.3" fill="#2a2a2a"/>
<circle cx="884.5" cy="898" r="2.3" fill="#2a2a2a"/>
<circle cx="855" cy="1021" r="2.3" fill="#2a2a2a"/>
<clipPath id="bc"><circle cx="1155.5" cy="277" r="271"/></clipPath>
<circle cx="1155.5" cy="277" r="271" fill="#fff"/>
<g clip-path="url(#bc)">
<polygon points="905,105 925,92 990,205 972,205" fill="#363636" />
<line x1="905" y1="107" x2="972" y2="204" stroke="#1e1e1e" stroke-width="2" stroke-linecap="butt" />
<line x1="1000" y1="47" x2="1110" y2="42.5" stroke="#3d3d3d" stroke-width="2.6" stroke-linecap="butt" />
<line x1="940" y1="95" x2="1150" y2="79.5" stroke="#3d3d3d" stroke-width="2.6" stroke-linecap="butt" />
<line x1="880" y1="154" x2="1195" y2="118.5" stroke="#3d3d3d" stroke-width="2.6" stroke-linecap="butt" />
<line x1="970" y1="35" x2="1112" y2="180" stroke="#3d3d3d" stroke-width="2.6" stroke-linecap="butt" />
<line x1="1010" y1="7" x2="1180" y2="168" stroke="#3d3d3d" stroke-width="2.6" stroke-linecap="butt" />
<line x1="920" y1="62" x2="1035" y2="192" stroke="#3d3d3d" stroke-width="2.6" stroke-linecap="butt" />
<line x1="880" y1="110" x2="953" y2="206" stroke="#3d3d3d" stroke-width="2.6" stroke-linecap="butt" />
<polygon points="870,290 1300,208 1304,236 870,331" fill="#474747" />
<polygon points="870,290 1300,208 1301,214 870,297" fill="#3a3a3a" />
<line x1="870" y1="295" x2="1300" y2="213" stroke="#5a5a5a" stroke-width="1.5" stroke-linecap="butt" />
<path d="M1051 290 Q1051 279 1060 278.5 L1082 278 Q1089 278 1092 284 L1330 570 L1270 570 Z" fill="#393939" stroke="#393939" stroke-width="0" stroke-linecap="round" stroke-linejoin="round" />
<line x1="1052" y1="291" x2="1270" y2="570" stroke="#2a2a2a" stroke-width="2" stroke-linecap="butt" />
<line x1="880" y1="377.6" x2="1360" y2="260" stroke="#3d3d3d" stroke-width="2.6" stroke-linecap="butt" />
<line x1="900" y1="475.4" x2="1420" y2="318.4" stroke="#3d3d3d" stroke-width="2.6" stroke-linecap="butt" />
<line x1="1040" y1="551.5" x2="1420" y2="405.8" stroke="#3d3d3d" stroke-width="2.6" stroke-linecap="butt" />
<line x1="906.7" y1="281.6" x2="1090" y2="544" stroke="#3d3d3d" stroke-width="2.6" stroke-linecap="butt" />
<line x1="1001.4" y1="263" x2="1240" y2="567" stroke="#3d3d3d" stroke-width="2.6" stroke-linecap="butt" />
<line x1="1098" y1="260" x2="1330" y2="524" stroke="#3d3d3d" stroke-width="2.6" stroke-linecap="butt" />
<line x1="1194" y1="260.8" x2="1400" y2="483" stroke="#3d3d3d" stroke-width="2.6" stroke-linecap="butt" />
<line x1="1264.4" y1="249.8" x2="1420" y2="397.5" stroke="#3d3d3d" stroke-width="2.6" stroke-linecap="butt" />
<line x1="870" y1="288" x2="1300" y2="206" stroke="#3d3d3d" stroke-width="2.2" stroke-linecap="butt" />
<polygon points="870,212.3 1243,160 1254,189 870,253.3" fill="#434343" />
<line x1="870" y1="215" x2="1243" y2="163" stroke="#575757" stroke-width="1.5" stroke-linecap="butt" />
<line x1="870" y1="210" x2="1243" y2="158" stroke="#3d3d3d" stroke-width="2.2" stroke-linecap="butt" />
<polygon points="1032.5,-5 1107.4,-5 1445,268.5 1445,350 1418.6,326.5 1303,227.7 1300,211 1254,189 1243,162 1070,24.7" fill="#3b3b3b" />
<polygon points="1107.4,-5 1445,268.5 1445,278 1098,-5" fill="#454545" />
<line x1="1045" y1="10" x2="1243" y2="165" stroke="#555" stroke-width="1.6" stroke-linecap="butt" />
<line x1="1303" y1="231" x2="1420" y2="331" stroke="#555" stroke-width="1.6" stroke-linecap="butt" />
</g>
<circle cx="1155.5" cy="277" r="271" fill="none" stroke="#0b285f" stroke-width="10"/>
<clipPath id="lc"><circle cx="320" cy="1140" r="194"/></clipPath>
<circle cx="320" cy="1140" r="194" fill="#fff"/>
<g clip-path="url(#lc)">
<polygon points="100,990.5 540,1025.3 540,1047 100,1018" fill="#333" />
<polygon points="335.6,1033.5 364,1035.5 325.4,1111.3 325.4,1053.6" fill="#353535" />
<polygon points="335.6,1033.5 343.5,1034 325.4,1070 325.4,1053.6" fill="#3e3e3e" />
<polygon points="288,1028 306,1028 306,1316 290,1316" fill="#4a4a4a" />
<polygon points="306,1028 325.4,1030 325.4,1316 306,1316" fill="#363636" />
<polygon points="290,1313 325.4,1313 325.4,1320 292,1318" fill="#151515" />
<polygon points="245,1026.4 275.6,1031 300.5,1077.3 300.5,1121.5 288,1113.5" fill="#3a3a3a" />
<polygon points="276.5,1031.4 288,1031.6 288,1052.4" fill="#fff" />
<polygon points="325.4,1033.4 335.6,1033.9 325.4,1053.6" fill="#fff" />
</g>
<circle cx="320" cy="1140" r="194" fill="none" stroke="#0b285f" stroke-width="5.5"/>
<clipPath id="jc"><circle cx="1124.5" cy="1123" r="191"/></clipPath>
<circle cx="1124.5" cy="1123" r="191" fill="#fff"/>
<g clip-path="url(#jc)">
<polygon points="1152,900 1236,900 1229,1340 1151,1340" fill="#454545" />
<polygon points="920,1060.5 1100.7,1060.5 1100.7,1062 1091,1062 1091,1096 1104.5,1099 1104.5,1127 1091,1130.6 1091,1160 1100.7,1161 1100.7,1163 920,1178" fill="#454545" />
<ellipse cx="1156.7" cy="1076" rx="3" ry="6" fill="#111"/>
<ellipse cx="1156.7" cy="1143" rx="3" ry="6" fill="#111"/>
<line x1="1167" y1="1094" x2="1167" y2="1127" stroke="#111" stroke-width="1.2" stroke-linecap="butt" />
<defs><linearGradient id="gsh" x1="0" y1="0" x2="0" y2="1"><stop offset="0" stop-color="#dcdcdc"/><stop offset="0.5" stop-color="#c4c4c4"/><stop offset="1" stop-color="#9a9a9a"/></linearGradient><radialGradient id="ghd" cx="0.35" cy="0.4" r="0.7"><stop offset="0" stop-color="#e0e0e0"/><stop offset="0.6" stop-color="#c2c2c2"/><stop offset="1" stop-color="#a8a8a8"/></radialGradient></defs>
<polygon points="1233.7,1072.7 1270,1072.4 1270,1077.6 1233.7,1077.3" fill="url(#gsh)" />
<ellipse cx="1273" cy="1075" rx="7.6" ry="10.6" fill="url(#ghd)"/>
<polygon points="1233.7,1134.3 1270,1134 1270,1139.2 1233.7,1138.9" fill="url(#gsh)" />
<ellipse cx="1273" cy="1136.6" rx="7.6" ry="10.6" fill="url(#ghd)"/>
</g>
<path d="M1125.6 1025 A85.5 85.5 0 0 1 1168.9 1036.8" fill="none" stroke="#f70008" stroke-width="10.5"/>
<path d="M1187.5 1051.5 A85.5 85.5 0 0 1 1208.7 1090.4" fill="none" stroke="#f70008" stroke-width="10.5"/>
<path d="M1211 1115.3 A85.5 85.5 0 0 1 1197.1 1157.3" fill="none" stroke="#f70008" stroke-width="10.5"/>
<path d="M1180.1 1176.4 A85.5 85.5 0 0 1 1143.4 1194.1" fill="none" stroke="#f70008" stroke-width="10.5"/>
<path d="M1115.2 1195.4 A85.5 85.5 0 0 1 1076.6 1180.5" fill="none" stroke="#f70008" stroke-width="10.5"/>
<path d="M1057.6 1162.3 A85.5 85.5 0 0 1 1041.3 1124.6" fill="none" stroke="#f70008" stroke-width="10.5"/>
<path d="M1041 1098.3 A85.5 85.5 0 0 1 1057.9 1058.3" fill="none" stroke="#f70008" stroke-width="10.5"/>
<path d="M1075.6 1041.2 A85.5 85.5 0 0 1 1115.9 1025.5" fill="none" stroke="#f70008" stroke-width="10.5"/>
<path d="M1270 1051.2 A24.1 24.1 0 0 1 1287.7 1059.8" fill="none" stroke="#0c1d45" stroke-width="3.9"/>
<path d="M1292.8 1070.5 A24.1 24.1 0 0 1 1289.2 1088.8" fill="none" stroke="#0c1d45" stroke-width="3.9"/>
<path d="M1280.1 1096.8 A24.1 24.1 0 0 1 1261.2 1098" fill="none" stroke="#0c1d45" stroke-width="3.9"/>
<path d="M1250.9 1091 A24.1 24.1 0 0 1 1245.1 1073.9" fill="none" stroke="#0c1d45" stroke-width="3.9"/>
<path d="M1249 1062.1 A24.1 24.1 0 0 1 1265.8 1051.4" fill="none" stroke="#0c1d45" stroke-width="3.9"/>
<path d="M1270 1112.5 A24.1 24.1 0 0 1 1287.7 1121.1" fill="none" stroke="#0c1d45" stroke-width="3.9"/>
<path d="M1292.8 1131.8 A24.1 24.1 0 0 1 1289.2 1150.1" fill="none" stroke="#0c1d45" stroke-width="3.9"/>
<path d="M1280.1 1158.1 A24.1 24.1 0 0 1 1261.2 1159.3" fill="none" stroke="#0c1d45" stroke-width="3.9"/>
<path d="M1250.9 1152.3 A24.1 24.1 0 0 1 1245.1 1135.2" fill="none" stroke="#0c1d45" stroke-width="3.9"/>
<path d="M1249 1123.4 A24.1 24.1 0 0 1 1265.8 1112.7" fill="none" stroke="#0c1d45" stroke-width="3.9"/>
<circle cx="1124.5" cy="1123" r="191" fill="none" stroke="#0b285f" stroke-width="6"/>
<line x1="530.5" y1="651.4" x2="554" y2="656.5" stroke="#f70008" stroke-width="7.8" stroke-linecap="butt" />
<line x1="566.7" y1="659.2" x2="590.2" y2="664.3" stroke="#f70008" stroke-width="7.8" stroke-linecap="butt" />
<line x1="602.9" y1="667" x2="626.4" y2="672.1" stroke="#f70008" stroke-width="7.8" stroke-linecap="butt" />
<line x1="639.1" y1="674.9" x2="662.6" y2="679.9" stroke="#f70008" stroke-width="7.8" stroke-linecap="butt" />
<line x1="675.3" y1="682.7" x2="698.8" y2="687.8" stroke="#f70008" stroke-width="7.8" stroke-linecap="butt" />
<line x1="711.5" y1="690.5" x2="735" y2="695.6" stroke="#f70008" stroke-width="7.8" stroke-linecap="butt" />
<line x1="747.7" y1="698.3" x2="771.2" y2="703.4" stroke="#f70008" stroke-width="7.8" stroke-linecap="butt" />
<line x1="783.9" y1="706.1" x2="807.4" y2="711.2" stroke="#f70008" stroke-width="7.8" stroke-linecap="butt" />
<line x1="820.1" y1="714" x2="843.6" y2="719" stroke="#f70008" stroke-width="7.8" stroke-linecap="butt" />
<line x1="856.3" y1="721.8" x2="879.8" y2="726.9" stroke="#f70008" stroke-width="7.8" stroke-linecap="butt" />
<line x1="892.5" y1="729.6" x2="916" y2="734.7" stroke="#f70008" stroke-width="7.8" stroke-linecap="butt" />
<line x1="475.6" y1="690.2" x2="498.6" y2="695.2" stroke="#f70008" stroke-width="7.8" stroke-linecap="butt" />
<line x1="511.6" y1="698" x2="534.6" y2="703" stroke="#f70008" stroke-width="7.8" stroke-linecap="butt" />
<line x1="547.6" y1="705.8" x2="570.6" y2="710.8" stroke="#f70008" stroke-width="7.8" stroke-linecap="butt" />
<line x1="583.6" y1="713.6" x2="606.6" y2="718.6" stroke="#f70008" stroke-width="7.8" stroke-linecap="butt" />
<line x1="619.6" y1="721.4" x2="642.6" y2="726.4" stroke="#f70008" stroke-width="7.8" stroke-linecap="butt" />
<line x1="655.6" y1="729.2" x2="678.6" y2="734.2" stroke="#f70008" stroke-width="7.8" stroke-linecap="butt" />
<line x1="691.6" y1="737" x2="714.6" y2="742" stroke="#f70008" stroke-width="7.8" stroke-linecap="butt" />
<line x1="727.6" y1="744.9" x2="750.6" y2="749.8" stroke="#f70008" stroke-width="7.8" stroke-linecap="butt" />
<line x1="763.6" y1="752.7" x2="786.6" y2="757.7" stroke="#f70008" stroke-width="7.8" stroke-linecap="butt" />
<line x1="799.6" y1="760.5" x2="822.6" y2="765.5" stroke="#f70008" stroke-width="7.8" stroke-linecap="butt" />
<line x1="835.6" y1="768.3" x2="858.6" y2="773.3" stroke="#f70008" stroke-width="7.8" stroke-linecap="butt" />
<line x1="871.6" y1="776.1" x2="894.6" y2="781.1" stroke="#f70008" stroke-width="7.8" stroke-linecap="butt" />
<path d="M 465.5 680 L 465.5 655 C 465.5 645 470.5 638.5 482 641 L 518.4 648.9" fill="none" stroke="#f70008" stroke-width="7.8" stroke-linecap="butt" stroke-linejoin="round" />
<path d="M 924 738.3 C 930 741 933.5 746 933.5 753 L 933.5 763.5" fill="none" stroke="#f70008" stroke-width="7.8" stroke-linecap="butt" stroke-linejoin="round" />
<path d="M 932 773 C 930 781 924 786 915.5 786.5 L 907 785" fill="none" stroke="#f70008" stroke-width="7.8" stroke-linecap="butt" stroke-linejoin="round" />
<path d="M705.5 560 A42 42 0 0 1 741.4 582.9" fill="none" stroke="#0b285f" stroke-width="11"/>
<path d="M745.8 605.7 A42 42 0 0 1 721.1 640.4" fill="none" stroke="#0b285f" stroke-width="11"/>
<path d="M698.2 643.6 A42 42 0 0 1 664.8 617.1" fill="none" stroke="#0b285f" stroke-width="11"/>
<path d="M662.8 594 A42 42 0 0 1 691 562.1" fill="none" stroke="#0b285f" stroke-width="11"/>
<path d="M882.7 842.4 A41 41 0 0 1 915.3 868.3" fill="none" stroke="#0b285f" stroke-width="10.5"/>
<path d="M917.2 890.8 A41 41 0 0 1 889.7 922" fill="none" stroke="#0b285f" stroke-width="10.5"/>
<path d="M867.1 922.8 A41 41 0 0 1 837.4 893.6" fill="none" stroke="#0b285f" stroke-width="10.5"/>
<path d="M837.8 871 A41 41 0 0 1 868.5 842.9" fill="none" stroke="#0b285f" stroke-width="10.5"/>
<line x1="732.5" y1="560.8" x2="738.8" y2="553.2" stroke="#0c1d45" stroke-width="3.8" stroke-linecap="butt" />
<line x1="744.1" y1="546.9" x2="756.5" y2="531.9" stroke="#0c1d45" stroke-width="3.8" stroke-linecap="butt" />
<line x1="761.8" y1="525.6" x2="774.3" y2="510.6" stroke="#0c1d45" stroke-width="3.8" stroke-linecap="butt" />
<line x1="779.5" y1="504.3" x2="792" y2="489.3" stroke="#0c1d45" stroke-width="3.8" stroke-linecap="butt" />
<line x1="797.2" y1="483" x2="809.7" y2="468" stroke="#0c1d45" stroke-width="3.8" stroke-linecap="butt" />
<line x1="814.9" y1="461.7" x2="827.4" y2="446.7" stroke="#0c1d45" stroke-width="3.8" stroke-linecap="butt" />
<line x1="832.6" y1="440.4" x2="845.1" y2="425.4" stroke="#0c1d45" stroke-width="3.8" stroke-linecap="butt" />
<line x1="850.4" y1="419.1" x2="862.8" y2="404.1" stroke="#0c1d45" stroke-width="3.8" stroke-linecap="butt" />
<line x1="868.1" y1="397.8" x2="880.5" y2="382.8" stroke="#0c1d45" stroke-width="3.8" stroke-linecap="butt" />
<line x1="885.8" y1="376.5" x2="893.3" y2="367.5" stroke="#0c1d45" stroke-width="3.8" stroke-linecap="butt" />
<line x1="659.5" y1="733" x2="650.3" y2="744.8" stroke="#0c1d45" stroke-width="3.8" stroke-linecap="butt" />
<line x1="644.9" y1="751.8" x2="633.3" y2="766.6" stroke="#0c1d45" stroke-width="3.8" stroke-linecap="butt" />
<line x1="627.8" y1="773.6" x2="616.3" y2="788.4" stroke="#0c1d45" stroke-width="3.8" stroke-linecap="butt" />
<line x1="610.8" y1="795.5" x2="599.3" y2="810.3" stroke="#0c1d45" stroke-width="3.8" stroke-linecap="butt" />
<line x1="593.8" y1="817.3" x2="582.2" y2="832.1" stroke="#0c1d45" stroke-width="3.8" stroke-linecap="butt" />
<line x1="576.7" y1="839.2" x2="565.2" y2="854" stroke="#0c1d45" stroke-width="3.8" stroke-linecap="butt" />
<line x1="559.7" y1="861" x2="548.2" y2="875.8" stroke="#0c1d45" stroke-width="3.8" stroke-linecap="butt" />
<line x1="542.7" y1="882.9" x2="531.1" y2="897.7" stroke="#0c1d45" stroke-width="3.8" stroke-linecap="butt" />
<line x1="525.7" y1="904.7" x2="514.1" y2="919.5" stroke="#0c1d45" stroke-width="3.8" stroke-linecap="butt" />
<line x1="508.6" y1="926.5" x2="497.1" y2="941.4" stroke="#0c1d45" stroke-width="3.8" stroke-linecap="butt" />
<line x1="491.6" y1="948.4" x2="480" y2="963.2" stroke="#0c1d45" stroke-width="3.8" stroke-linecap="butt" />
<line x1="474.6" y1="970.2" x2="463" y2="985.1" stroke="#0c1d45" stroke-width="3.8" stroke-linecap="butt" />
<line x1="457.5" y1="992.1" x2="454.8" y2="995.6" stroke="#0c1d45" stroke-width="3.8" stroke-linecap="butt" />
<line x1="906" y1="913.5" x2="918.1" y2="929.4" stroke="#0c1d45" stroke-width="3.8" stroke-linecap="butt" />
<line x1="924.4" y1="937" x2="935.5" y2="950" stroke="#0c1d45" stroke-width="3.8" stroke-linecap="butt" />
<line x1="943.8" y1="957.6" x2="955.2" y2="970.9" stroke="#0c1d45" stroke-width="3.8" stroke-linecap="butt" />
<line x1="961.2" y1="977.5" x2="973.2" y2="991.4" stroke="#0c1d45" stroke-width="3.8" stroke-linecap="butt" />
<g font-family="&quot;Liberation Sans&quot;, sans-serif" fill="#0b1636">
<text x="177.3" y="93.7" font-size="40.8" textLength="508" lengthAdjust="spacingAndGlyphs">STEEL MESH BASE PREVENTS</text>
<text x="221.5" y="145" font-size="40.8" textLength="414" lengthAdjust="spacingAndGlyphs">MATTRESS SAGGING BY</text>
<text x="123" y="195.5" font-size="40.8" textLength="614" lengthAdjust="spacingAndGlyphs">SUPPORTING IN EVERY POINT AND</text>
<text x="162.5" y="246.5" font-size="40.8" textLength="535" lengthAdjust="spacingAndGlyphs">EXTENDS MATTRESS LIFESPAN</text>
<text x="0" y="1400" font-size="40.8" textLength="642" lengthAdjust="spacingAndGlyphs">STRONG WELDED MIDDLE SUPPORT</text>
<text x="64.5" y="1451" font-size="40.8" textLength="511" lengthAdjust="spacingAndGlyphs">LEGS NEVER BEND OR BREAK</text>
<text x="810.5" y="1359" font-size="35" textLength="646" lengthAdjust="spacingAndGlyphs">Patented male-female mounting system,</text>
<text x="866.5" y="1405" font-size="35" textLength="533" lengthAdjust="spacingAndGlyphs">augmented by precision laser-cut</text>
<text x="865" y="1451" font-size="35" textLength="545" lengthAdjust="spacingAndGlyphs">elements, and reinforced with two</text>
<text x="991" y="1496" font-size="35" textLength="287" lengthAdjust="spacingAndGlyphs">additional screws.</text>
</g>
</svg>
</body></html>
